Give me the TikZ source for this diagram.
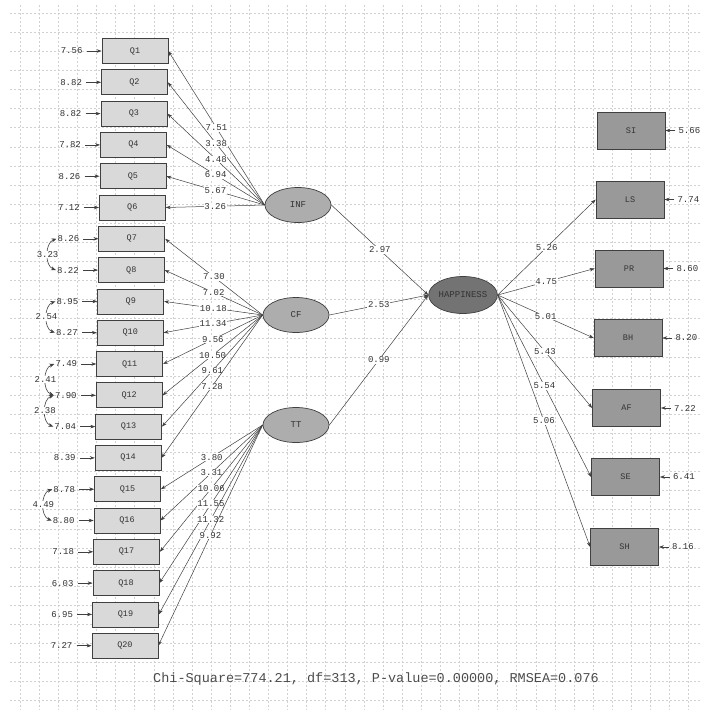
\documentclass[tikz,border=0pt]{standalone}
\usepackage{fontspec}
\setmainfont{Liberation Mono}
\usetikzlibrary{shapes.geometric,arrows.meta}
\begin{document}
\begin{tikzpicture}[x=1pt,y=-1pt,
  obs/.style={draw=black!75, fill=black!15, minimum width=66pt, minimum height=25pt, inner sep=0pt, line width=0.7pt, font=\fontsize{8.5}{9}\selectfont, text=black!80},
  obsr/.style={draw=black!75, fill=black!40, minimum width=68pt, minimum height=37pt, inner sep=0pt, line width=0.7pt, font=\fontsize{8.5}{9}\selectfont, text=black!80},
  lat/.style={ellipse, draw=black!75, fill=black!32, minimum width=66pt, minimum height=35pt, inner sep=0pt, line width=0.7pt, font=\fontsize{9}{10}\selectfont, text=black!80},
  hapst/.style={lat, fill=black!55, minimum width=67pt, minimum height=37pt},
  arr/.style={-{Stealth[length=5pt,width=3.5pt]}, draw=black!75, line width=0.5pt},
  darr/.style={{Stealth[length=5pt,width=4pt]}-{Stealth[length=5pt,width=4pt]}, draw=black!75, line width=0.6pt},
  lbl/.style={fill=white, inner sep=0.6pt, font=\fontsize{9}{10}\selectfont, text=black!80},
  clbl/.style={fill=white, inner sep=0.6pt, font=\fontsize{9}{10}\selectfont, text=black!80},
  errl/.style={inner sep=1pt, font=\fontsize{9}{10}\selectfont, text=black!80},
  gridl/.style={draw=black!18, line width=0.4pt, dash pattern=on 2pt off 2pt}
]
\fill[white] (0,0) rectangle (704,716);
\useasboundingbox (0,0) rectangle (704,716);
% background grid
\foreach \k in {0,...,35} \draw[gridl] ({20+19.1*\k},5) -- ({20+19.1*\k},710);
\foreach \k in {0,...,36} \draw[gridl] (10,{13+19.1*\k}) -- (700,{13+19.1*\k});

% latent variables
\node[lat] (inf) at (298,205) {INF};
\node[lat] (cf) at (296,315) {CF};
\node[lat] (tt) at (296,425) {TT};
\node[hapst] (hap) at (463,295) {HAPPINESS};

% left observed variables with error variances
\foreach \i/\e in {1/7.56,2/8.82,3/8.82,4/7.82,5/8.26,6/7.12,7/8.26,8/8.22,9/8.95,10/8.27,11/7.49,12/7.90,13/7.04,14/8.39,15/8.78,16/8.80,17/7.18,18/6.03,19/6.95,20/7.27} {
  \pgfmathsetmacro\yy{51+(\i-1)*31.3}
  \pgfmathsetmacro\xx{135-(\i-1)*0.53}
  \node[obs] (q\i) at (\xx,\yy) {Q\i};
  \node[errl, anchor=east] (e\i) at ([xshift=-18pt]q\i.west) {\e};
  \draw[arr, shorten <=3pt] (e\i) -- (q\i);
}

% loadings
\foreach \i/\v in {1/7.51,2/3.38,3/4.48,4/6.94,5/5.67,6/3.26}
  \draw[arr] (inf.west) -- node[lbl]{\v} (q\i.east);
\foreach \i/\v in {7/7.30,8/7.02,9/10.18,10/11.34,11/9.56,12/10.50,13/9.61,14/7.28}
  \draw[arr] (cf.west) -- node[lbl]{\v} (q\i.east);
\foreach \i/\v in {15/3.80,16/3.31,17/10.06,18/11.55,19/11.32,20/9.92}
  \draw[arr] (tt.west) -- node[lbl]{\v} (q\i.east);

% correlated errors
\draw[darr] (e7.west) to[bend right=70] node[clbl]{3.23} (e8.west);
\draw[darr] (e9.west) to[bend right=70] node[clbl]{2.54} (e10.west);
\draw[darr] (e11.west) to[bend right=70] node[clbl]{2.41} (e12.west);
\draw[darr] (e12.west) to[bend right=70] node[clbl]{2.38} (e13.west);
\draw[darr] (e15.west) to[bend right=70] node[clbl]{4.49} (e16.west);

% structural paths
\draw[arr] (inf.east) -- node[lbl]{2.97} (hap.west);
\draw[arr] (cf.east) -- node[lbl]{2.53} (hap.west);
\draw[arr] (tt.east) -- node[lbl]{0.99} (hap.west);

% right indicators
\foreach \n/\yy/\xx/\e in {SI/130.5/631/5.66, LS/199.5/630/7.74, PR/268.5/629/8.60, BH/338/628/8.20, AF/408/626.5/7.22, SE/477/625.5/6.41, SH/547/624.5/8.16} {
  \node[obsr] (\n) at (\xx,\yy) {\n};
  \node[errl, anchor=west] (r\n) at ([xshift=12pt]\n.east) {\e};
  \draw[arr, shorten <=2pt] (r\n) -- (\n);
}
\foreach \n/\v in {LS/5.26, PR/4.75, BH/5.01, AF/5.43, SE/5.54, SH/5.06}
  \draw[arr] (hap.east) -- node[lbl]{\v} (\n.west);

% fit statistics
\node[font=\fontsize{13.5}{15}\selectfont, text=black!70, inner sep=1pt] (fit) at (376,679) {Chi-Square=774.21, df=313, P-value=0.00000, RMSEA=0.076};
\end{tikzpicture}
\end{document}
